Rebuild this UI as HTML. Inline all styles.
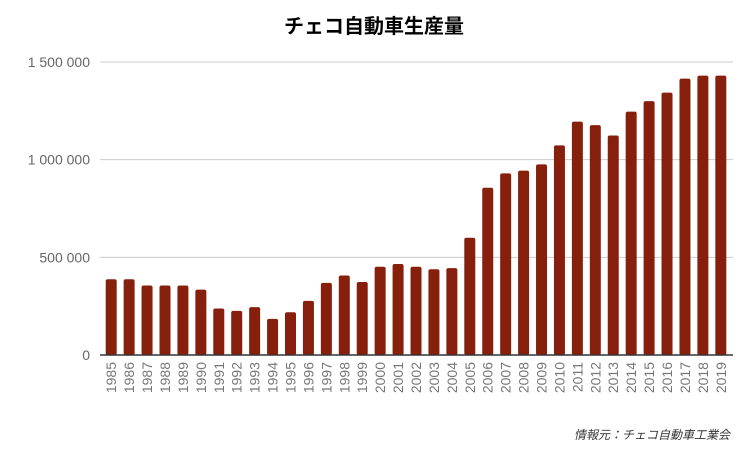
<!DOCTYPE html>
<html><head><meta charset="utf-8"><style>
body{margin:0;background:#fff;width:748px;height:448px;overflow:hidden}
svg text{font-family:"Liberation Sans","Noto Sans CJK JP",sans-serif}
</style></head><body>
<svg id="chart" width="748" height="448">
<text x="374" y="33" text-anchor="middle" font-size="20" font-weight="bold" fill="#000">チェコ自動車生産量</text>
<g id="grid"></g><g id="bars"></g><g id="xl"></g>
<line x1="100" x2="733" y1="355" y2="355" stroke="#333" stroke-width="1.5"/>
<text x="730" y="439" text-anchor="end" font-size="12" font-style="italic" fill="#333">情報元：チェコ自動車工業会</text>
</svg>
<script>
const years=[1985,1986,1987,1988,1989,1990,1991,1992,1993,1994,1995,1996,1997,1998,1999,2000,2001,2002,2003,2004,2005,2006,2007,2008,2009,2010,2011,2012,2013,2014,2015,2016,2017,2018,2019];
const production=[388000,388000,356000,356000,356000,335000,238000,226000,245000,185000,219000,277000,369000,407000,374000,452000,466000,452000,439000,445000,600000,856000,930000,944000,976000,1073000,1195000,1177000,1124000,1246000,1300000,1343000,1415000,1430000,1430000];
const yTicks=[0,500000,1000000,1500000];
const yTickLabels=["0","500 000","1 000 000","1 500 000"];
const NS="http://www.w3.org/2000/svg";
const y0=355,yTop=62,vMax=1500000;
const yS=v=>y0-(v/vMax)*(y0-yTop);
const step=17.93,x0=105.7,bw=11;
const xS=i=>x0+i*step;
const grid=document.getElementById('grid'),bars=document.getElementById('bars'),xl=document.getElementById('xl');
yTicks.forEach((t,i)=>{
 if(t>0){const l=document.createElementNS(NS,'line');
 l.setAttribute('x1',100);l.setAttribute('x2',733);l.setAttribute('y1',yS(t));l.setAttribute('y2',yS(t));
 l.setAttribute('stroke','#ccc');
 
 
 grid.appendChild(l);}
 const tx=document.createElementNS(NS,'text');
 tx.setAttribute('x',90);tx.setAttribute('y',yS(t)+5);tx.setAttribute('text-anchor','end');
 tx.setAttribute('font-size','14');tx.setAttribute('fill','#666');tx.textContent=yTickLabels[i];
 
 
 grid.appendChild(tx);
});
production.forEach((v,i)=>{
 const r=document.createElementNS(NS,'rect');
 r.setAttribute('x',xS(i));r.setAttribute('y',yS(v));r.setAttribute('width',bw);r.setAttribute('height',y0-yS(v));
 r.setAttribute('rx',2);r.setAttribute('fill','#86200c');
 
 
 bars.appendChild(r);
 const t=document.createElementNS(NS,'text');
 const cx=xS(i)+bw/2+5;
 t.setAttribute('x',cx);t.setAttribute('y',362);t.setAttribute('text-anchor','end');
 t.setAttribute('transform','rotate(-90 '+cx+' 362)');
 t.setAttribute('font-size','14');t.setAttribute('fill','#777');t.textContent=years[i];
 
 
 xl.appendChild(t);
});
</script>
</body></html>
